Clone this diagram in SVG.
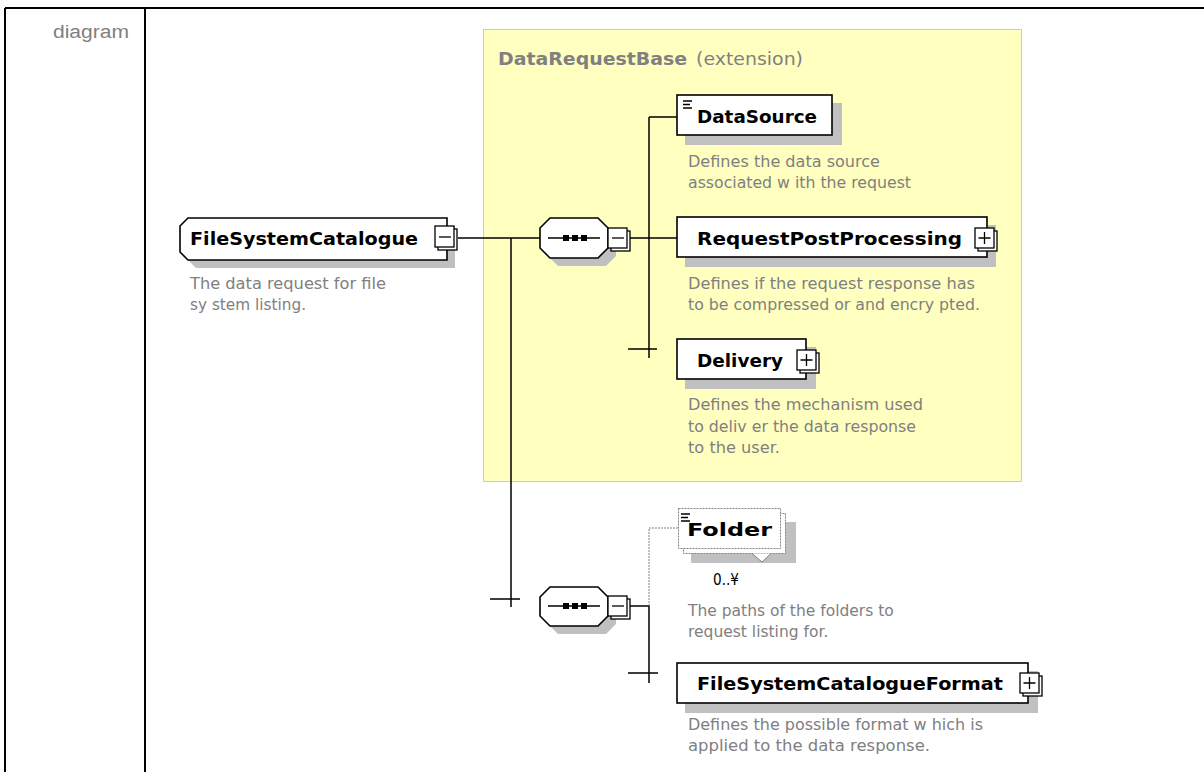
<svg xmlns="http://www.w3.org/2000/svg" width="1204" height="772" viewBox="0 0 1204 772">
<style>
.frame{stroke:#000;stroke-width:2;fill:none}
.node{fill:#fff;stroke:#000;stroke-width:1.6}
.shadow{fill:#c0c0c0;stroke:none}
.btn{fill:#fff;stroke:#000;stroke-width:1.3}
.sign{stroke:#000;stroke-width:1.3;fill:none}
.lbl{font-family:"DejaVu Sans",Verdana,sans-serif;font-weight:bold;font-size:17px;fill:#000}
.desc{font-family:"DejaVu Sans",Verdana,sans-serif;font-size:15.5px;fill:#808080}
.conn{stroke:#000;stroke-width:1.5;fill:none}
.opt{stroke:#808080;stroke-width:1;stroke-dasharray:2,1;fill:none}
.optnode{fill:#fff;stroke:#808080;stroke-width:1;stroke-dasharray:2,1}
</style>

<g id="frame">
<path class="frame" d="M5,8 H1204 M5,8 V772 M145,8 V772"/>
<text x="53" y="38" font-family="Liberation Sans, Arial, sans-serif" font-size="18" fill="#808080" textLength="76" lengthAdjust="spacingAndGlyphs">diagram</text>
</g>

<g id="extension-DataRequestBase">
<rect x="483.5" y="29.5" width="538" height="452" fill="#ffffc0" stroke="#999" stroke-width="1" stroke-dasharray="1,1"/>
<text y="65" font-family="DejaVu Sans, Verdana, sans-serif" font-size="17" fill="#808080"><tspan x="498" font-weight="bold" textLength="189" lengthAdjust="spacingAndGlyphs">DataRequestBase</tspan><tspan x="696" textLength="107" lengthAdjust="spacingAndGlyphs">(extension)</tspan></text>
</g>

<g id="connectors">
<path class="conn" d="M458,238 H540"/>
<path class="conn" d="M511,238 V607 M490,599 H520"/>
<path class="conn" d="M630,238 H677"/>
<path class="conn" d="M649,117 H677 M649,117 V358 M628,349 H657"/>
<path class="conn" d="M630,606 H649 V683 M628,673 H658"/>
<path class="opt" d="M649,606 V528 H678"/>
</g>

<g id="node-FileSystemCatalogue">
<path class="shadow" d="M196,226 H455 V268 H196 L188,260 V234 Z"/>
<path class="node" d="M188,218 H447 V260 H188 L180,252 V226 Z"/>
<rect class="btn" x="438" y="229" width="19" height="21"/>
<rect class="btn" x="435" y="226" width="19" height="21"/>
<path class="sign" d="M439,237 H451"/>
<text class="lbl" x="190" y="245" textLength="228" lengthAdjust="spacingAndGlyphs">FileSystemCatalogue</text>
<text class="desc" x="190" y="289" textLength="196" lengthAdjust="spacingAndGlyphs">The data request for file</text>
<text class="desc" x="190" y="310" textLength="116" lengthAdjust="spacingAndGlyphs">sy stem listing.</text>
</g>

<g id="sequence-1">
<path class="shadow" d="M558,226 H606 L616,236 V256 L606,266 H558 L548,256 V236 Z"/>
<path class="node" d="M550,218 H598 L608,228 V248 L598,258 H550 L540,248 V228 Z"/>
<path class="sign" d="M548,238 H600"/>
<rect x="563" y="235" width="6" height="6" fill="#000"/>
<rect x="572" y="235" width="6" height="6" fill="#000"/>
<rect x="581" y="235" width="6" height="6" fill="#000"/>
<rect class="btn" x="611" y="231" width="19" height="20"/>
<rect class="btn" x="608" y="228" width="19" height="20"/>
<path class="sign" d="M612,238 H624"/>
</g>

<g id="node-DataSource">
<rect class="shadow" x="685" y="103" width="157" height="42"/>
<rect class="node" x="677" y="95" width="155" height="40"/>
<path class="sign" d="M683,101 H692 M683,104.5 H690 M683,108 H692"/>
<text class="lbl" x="697" y="123" textLength="120" lengthAdjust="spacingAndGlyphs">DataSource</text>
<text class="desc" x="688" y="167" textLength="192" lengthAdjust="spacingAndGlyphs">Defines the data source</text>
<text class="desc" x="688" y="188" textLength="223" lengthAdjust="spacingAndGlyphs">associated w ith the request</text>
</g>

<g id="node-RequestPostProcessing">
<rect class="shadow" x="685" y="225" width="311" height="42"/>
<rect class="node" x="677" y="217" width="310" height="40"/>
<rect class="btn" x="978" y="231" width="19" height="20"/>
<rect class="btn" x="975" y="228" width="19" height="20"/>
<path class="sign" d="M978.5,238 H990.5 M984.5,232 V244"/>
<text class="lbl" x="697" y="245" textLength="265" lengthAdjust="spacingAndGlyphs">RequestPostProcessing</text>
<text class="desc" x="688" y="289" textLength="287" lengthAdjust="spacingAndGlyphs">Defines if the request response has</text>
<text class="desc" x="688" y="310" textLength="292" lengthAdjust="spacingAndGlyphs">to be compressed or and encry pted.</text>
</g>

<g id="node-Delivery">
<rect class="shadow" x="685" y="347" width="131" height="42"/>
<rect class="node" x="677" y="339" width="129" height="40"/>
<rect class="btn" x="800" y="353" width="19" height="20"/>
<rect class="btn" x="797" y="350" width="19" height="20"/>
<path class="sign" d="M800.5,360 H812.5 M806.5,354 V366"/>
<text class="lbl" x="697" y="367" textLength="86" lengthAdjust="spacingAndGlyphs">Delivery</text>
<text class="desc" x="688" y="410" textLength="235" lengthAdjust="spacingAndGlyphs">Defines the mechanism used</text>
<text class="desc" x="688" y="432" textLength="228" lengthAdjust="spacingAndGlyphs">to deliv er the data response</text>
<text class="desc" x="688" y="453" textLength="92" lengthAdjust="spacingAndGlyphs">to the user.</text>
</g>

<g id="sequence-2">
<path class="shadow" d="M558,595 H606 L616,605 V624 L606,634 H558 L548,624 V605 Z"/>
<path class="node" d="M550,587 H598 L608,597 V616 L598,626 H550 L540,616 V597 Z"/>
<path class="sign" d="M548,606 H600"/>
<rect x="563" y="603" width="6" height="6" fill="#000"/>
<rect x="572" y="603" width="6" height="6" fill="#000"/>
<rect x="581" y="603" width="6" height="6" fill="#000"/>
<rect class="btn" x="611" y="599" width="19" height="20"/>
<rect class="btn" x="608" y="596" width="19" height="20"/>
<path class="sign" d="M612,606 H624"/>
</g>

<g id="node-Folder">
<rect class="shadow" x="691" y="522" width="105" height="41"/>
<rect class="optnode" x="683.5" y="513.5" width="102" height="40"/>
<path d="M752,553.5 L762,562 L771,553.5" fill="#fff" stroke="#808080" stroke-width="1"/>
<rect class="optnode" x="678.5" y="508.5" width="102" height="40"/>
<path class="sign" d="M681,514 H690 M681,517.5 H688 M681,521 H690"/>
<text class="lbl" x="687" y="536" textLength="85" lengthAdjust="spacingAndGlyphs">Folder</text>
<text x="713" y="585" font-family="DejaVu Sans, Verdana, sans-serif" font-size="16" fill="#000" textLength="26" lengthAdjust="spacingAndGlyphs">0..¥</text>
<text class="desc" x="688" y="616">The paths of the folders to</text>
<text class="desc" x="688" y="637">request listing for.</text>
</g>

<g id="node-FileSystemCatalogueFormat">
<rect class="shadow" x="685" y="671" width="353" height="42"/>
<rect class="node" x="677" y="663" width="351" height="40"/>
<rect class="btn" x="1023" y="676" width="19" height="20"/>
<rect class="btn" x="1020" y="673" width="19" height="20"/>
<path class="sign" d="M1023.5,683 H1035.5 M1029.5,677 V689"/>
<text class="lbl" x="697" y="690" textLength="306" lengthAdjust="spacingAndGlyphs">FileSystemCatalogueFormat</text>
<text class="desc" x="688" y="730" textLength="295" lengthAdjust="spacingAndGlyphs">Defines the possible format w hich is</text>
<text class="desc" x="688" y="751" textLength="242" lengthAdjust="spacingAndGlyphs">applied to the data response.</text>
</g>
</svg>
